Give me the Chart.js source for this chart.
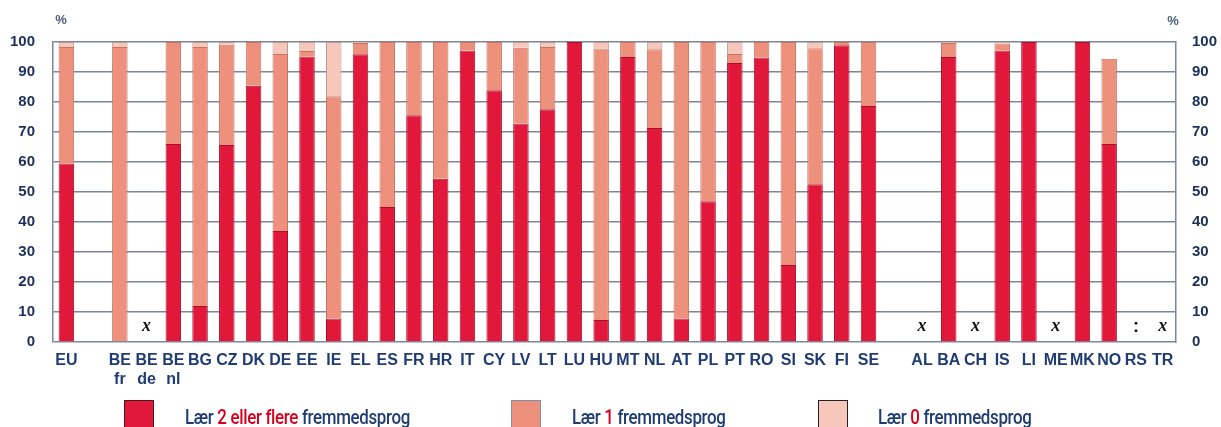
<!DOCTYPE html>
<html>
<head>
<meta charset="utf-8">
<script src="https://cdn.jsdelivr.net/npm/chart.js@4/dist/chart.umd.min.js"></script>
<style>
  html, body { margin: 0; padding: 0; background: #fff; overflow: hidden; }
  #wrap { position: relative; width: 1221px; height: 427px; overflow: hidden; }
  #chart { position: absolute; left: 0; top: 0; }
  #legend { position: absolute; left: 0; top: 0; width: 1221px; height: 427px; pointer-events: none; }
  .box { position: absolute; top: 400px; width: 30px; height: 32px; box-sizing: border-box; border: 1.5px solid #333; }
  .txt { position: absolute; top: 407px; font-family: Roboto, 'Liberation Sans', sans-serif; font-weight: 500;
         font-size: 21px; line-height: 21px; color: #1f3c73; white-space: nowrap; letter-spacing: -0.4px;
         transform-origin: 0 0; }
  .txt span.hl { color: #d6001c; }
</style>
</head>
<body>
<div id="wrap">
  <canvas id="chart" width="1221" height="427"></canvas>
  <div id="legend"></div>
</div>
<script>
// Pupils learning foreign languages, share in % by number of languages
const categories = ['EU', '', ['BE', 'fr'], ['BE', 'de'], ['BE', 'nl'], 'BG', 'CZ', 'DK', 'DE', 'EE', 'IE', 'EL', 'ES',
  'FR', 'HR', 'IT', 'CY', 'LV', 'LT', 'LU', 'HU', 'MT', 'NL', 'AT', 'PL', 'PT', 'RO', 'SI', 'SK', 'FI', 'SE', '',
  'AL', 'BA', 'CH', 'IS', 'LI', 'ME', 'MK', 'NO', 'RS', 'TR'];

const twoOrMore = [59.5, null, 0, null, 66, 12, 65.7, 85.4, 37, 95.2, 7.8, 95.9, 45,
  75.6, 54.4, 97.2, 83.9, 72.8, 77.6, 100, 7.3, 95, 71.3, 7.8, 46.9, 93, 94.8, 25.7, 52.6, 98.9, 78.7, null,
  null, 95, null, 97.2, 100, null, 100, 66, null, null];

const oneLang = [38.8, null, 98.3, null, 34, 86.3, 33.4, 14.6, 59, 1.8, 74.1, 3.8, 55,
  24.4, 45.6, 2.8, 16.1, 25.3, 20.7, 0, 90.5, 5, 26.3, 92.2, 53.1, 3, 5.2, 74.3, 45.3, 1.1, 21.3, null,
  null, 4.7, null, 2.3, 0, null, 0, 28.4, null, null];

const noLang = [1.7, null, 1.7, null, 0, 1.7, 0.9, 0, 4, 3, 18.1, 0.3, 0,
  0, 0, 0, 0, 1.9, 1.7, 0, 2.2, 0, 2.4, 0, 0, 4, 0, 0, 2.1, 0, 0, null,
  null, 0.3, null, 0.5, 0, null, 0, 0, null, null];

// Flags for missing data: "x" = not applicable, ":" = not available
const flags = ['', '', '', 'x', '', '', '', '', '', '', '', '', '',
  '', '', '', '', '', '', '', '', '', '', '', '', '', '', '', '', '', '', '',
  'x', '', 'x', '', '', 'x', '', '', ':', 'x'];

const yTicks = [0, 10, 20, 30, 40, 50, 60, 70, 80, 90, 100];

const seriesNames = [
  ['Lær ', '2 eller flere', ' fremmedsprog'],
  ['Lær ', '1', ' fremmedsprog'],
  ['Lær ', '0', ' fremmedsprog']
];
const fills = ['#e2183a', '#ee917c', '#f8c7bb'];
const edges = ['#a8102a', '#c57463', '#b89a94'];
const legendEdges = ['#4a1a1a', '#7d8fb0', '#222'];

const navy = '#1f3c73';
const gridCol = '#7c8899';

const flagPlugin = {
  id: 'flags',
  afterDatasetsDraw(chart) {
    const ctx = chart.ctx, xs = chart.scales.x, ys = chart.scales.y;
    ctx.save();
    ctx.fillStyle = '#111';
    ctx.textAlign = 'center';
    ctx.textBaseline = 'middle';
    flags.forEach((f, i) => {
      if (!f) return;
      ctx.font = f === 'x' ? 'bold italic 18px "Liberation Serif"' : 'bold 18px "Liberation Sans"';
      ctx.fillText(f, xs.getPixelForValue(i), ys.getPixelForValue(5) - (f === 'x' ? 1 : 0));
    });
    // unit labels above both value axes
    ctx.fillStyle = '#50607e';
    ctx.font = 'bold 13px "Liberation Sans"';
    ctx.fillText('%', 61, 20);
    ctx.fillText('%', 1173, 21);
    ctx.restore();
  }
};

const tickFont = { family: 'Liberation Sans', weight: 'bold', size: 15 };

new Chart(document.getElementById('chart'), {
  type: 'bar',
  data: {
    labels: categories,
    datasets: [twoOrMore, oneLang, noLang].map((d, k) => ({
      label: seriesNames[k].join(''),
      data: d,
      backgroundColor: fills[k],
      borderColor: edges[k],
      borderWidth: c => (c.raw ? 1 : 0),
      borderSkipped: 'bottom',
      barPercentage: 0.58,
      categoryPercentage: 1,
      yAxisID: 'y'
    }))
  },
  options: {
    responsive: false,
    animation: false,
    layout: { padding: { top: 42, left: 0, right: 0, bottom: 0 } },
    plugins: { legend: { display: false }, tooltip: { enabled: false } },
    scales: {
      x: {
        stacked: true,
        grid: { display: false, drawTicks: false },
        border: { display: false },
        ticks: { autoSkip: false, maxRotation: 0, padding: 9, color: navy,
                 font: { family: 'Liberation Sans', weight: 'bold', size: 16 } },
        afterFit(s) { s.height = 85; }
      },
      y: {
        stacked: true, min: 0, max: 100,
        afterBuildTicks(s) { s.ticks = yTicks.map(v => ({ value: v })); },
        ticks: { padding: 18, color: '#1b2f5b', font: tickFont },
        grid: { color: gridCol, lineWidth: 1.5, drawTicks: false },
        border: { display: true, color: gridCol, width: 1.5 },
        afterFit(s) { s.width = 53; }
      },
      y2: {
        position: 'right', min: 0, max: 100,
        afterBuildTicks(s) { s.ticks = yTicks.map(v => ({ value: v })); },
        ticks: { padding: 16, color: '#1b2f5b', font: tickFont },
        grid: { display: false, drawTicks: false },
        border: { display: true, color: gridCol, width: 1.5 },
        afterFit(s) { s.width = 45; }
      }
    }
  },
  plugins: [flagPlugin]
});

// Legend with highlighted language count, set in a narrow face
const legendPos = [[124, 185], [511, 572], [818, 878]];
const firstTextWidth = 225;
const legend = document.getElementById('legend');
const texts = [];
seriesNames.forEach((parts, k) => {
  const box = document.createElement('div');
  box.className = 'box';
  box.style.left = legendPos[k][0] + 'px';
  box.style.background = fills[k];
  box.style.borderColor = legendEdges[k];
  legend.appendChild(box);
  const t = document.createElement('div');
  t.className = 'txt';
  t.style.left = legendPos[k][1] + 'px';
  parts.forEach((p, j) => {
    const s = document.createElement('span');
    if (j === 1) s.className = 'hl';
    s.textContent = p;
    t.appendChild(s);
  });
  legend.appendChild(t);
  texts.push(t);
});
const squeeze = firstTextWidth / texts[0].getBoundingClientRect().width;
texts.forEach(t => { t.style.transform = 'scaleX(' + squeeze + ')'; });
</script>
</body>
</html>
